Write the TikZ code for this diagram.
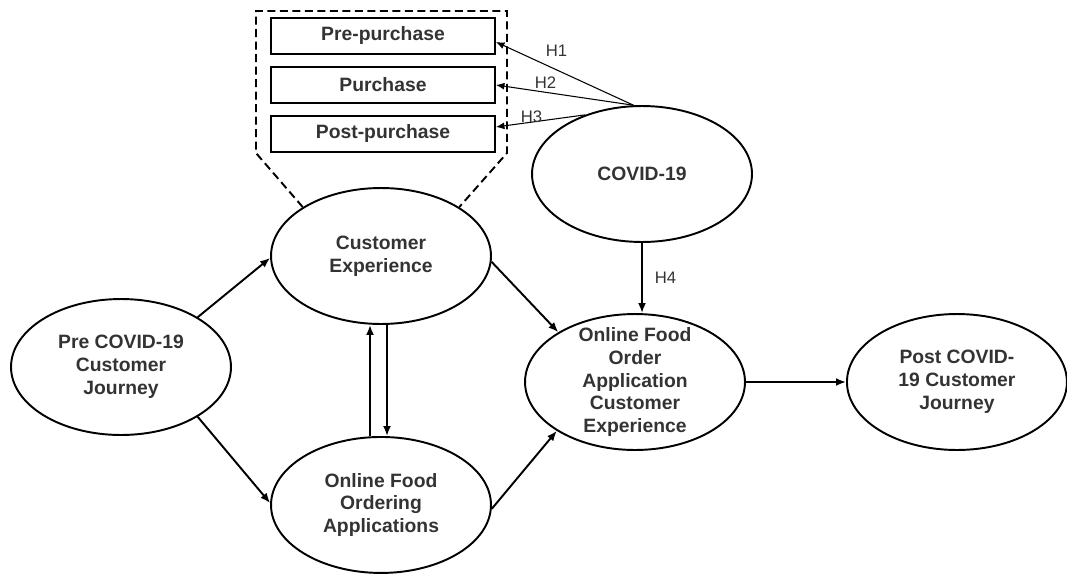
\documentclass[tikz,border=0pt]{standalone}
\usepackage{fontspec}
\setmainfont{Liberation Sans}
\usepackage{tikz}
\usetikzlibrary{positioning,arrows.meta,calc,shapes.geometric}
\tikzset{
    on grid,
    node distance=5cm,
    oval/.style = {
        draw,
        shape=ellipse,
        minimum width=4.4cm,
        minimum height=2.72cm,
        inner sep=0pt,
        line width=1.1pt
    },
    ovaltext/.style = {
        align=center,
        text=black!80,
        font=\fontsize{11}{13}\selectfont\bfseries
    },
    stage/.style = {
        draw,
        shape=rectangle,
        minimum width=4.48cm,
        minimum height=0.72cm,
        line width=1.1pt,
        text=black!80,
        font=\fontsize{11}{13}\selectfont\bfseries
    },
    callout/.style = {
        line width=1.1pt,
        dash pattern=on 0.16cm off 0.09cm
    },
    hline/.style = {
        line width=0.6pt,
        -{Latex[length=0.17cm,width=0.14cm]}
    },
    hyp/.style = {
        text=black!80,
        font=\fontsize{9.5}{11}\selectfont
    },
    >={Latex[length=0.2cm,width=0.16cm]},
}
\begin{document}
\begin{tikzpicture}[x=0.02cm,y=-0.02cm,line width=1.1pt]
    \useasboundingbox (0,0) rectangle (1067,575);

    \node[oval, label={[ovaltext]center:{Pre COVID-19\\Customer\\Journey}}] (pre) at (121,367) {};
    \node[oval, label={[ovaltext]center:{Customer\\Experience}}] (ce) at (381,256) {};
    \node[oval, below=4.98cm of ce, label={[ovaltext]center:{Online Food\\Ordering\\Applications}}] (ofoa) {};
    \node[oval, label={[ovaltext]center:{COVID-19}}] (covid) at (642,174) {};
    \node[oval, label={[ovaltext]center:{Online Food\\Order\\Application\\Customer\\Experience}}] (ofo) at (635,382) {};
    \node[oval, right=6.44cm of ofo, label={[ovaltext]center:{Post COVID-\\19 Customer\\Journey}}] (post) {};

    % journey stages
    \node[stage] (prep) at (383,36) {Pre-purchase};
    \node[stage, below=0.98cm of prep] (purch) {Purchase};
    \node[stage, below=0.98cm of purch] (postp) {Post-purchase};
    \draw[callout] (ce.148) -- (256,153) -- (256,11) -- (507,11) -- (507,153) -- (ce.32);

    %connect
    \draw[->] (pre.33) -- (ce.181);
    \draw[->] (pre.-33) -- (ofoa.179);
    \draw[->] ([xshift=-0.22cm]ofoa.north) -- ([xshift=-0.22cm]ce.south);
    \draw[->] ([xshift=0.12cm]ce.south) -- ([xshift=0.12cm]ofoa.north);
    \draw[->] (ce.-3) -- (ofo.147);
    \draw[->] (ofoa.-2) -- (ofo.212);
    \draw[->] (ofo.east) -- (post.west);
    \draw[->] (covid.south) -- (covid.south |- ofo.north)
        node[hyp, midway, right=0.12cm] (h4) {H4};

    % hypotheses
    \draw[hline] (covid.97) -- ([yshift=-0.12cm]prep.east)
        node[hyp, pos=0.56, yshift=0.38cm] (h1) {H1};
    \draw[hline] (covid.97) -- (purch.east)
        node[hyp, pos=0.64, yshift=0.2cm] (h2) {H2};
    \draw[hline] (covid.134) -- ([yshift=0.14cm]postp.east)
        node[hyp, pos=0.6, yshift=0.1cm] (h3) {H3};
    %\draw[->] (covid) -- (ce);

\end{tikzpicture}
\end{document}
